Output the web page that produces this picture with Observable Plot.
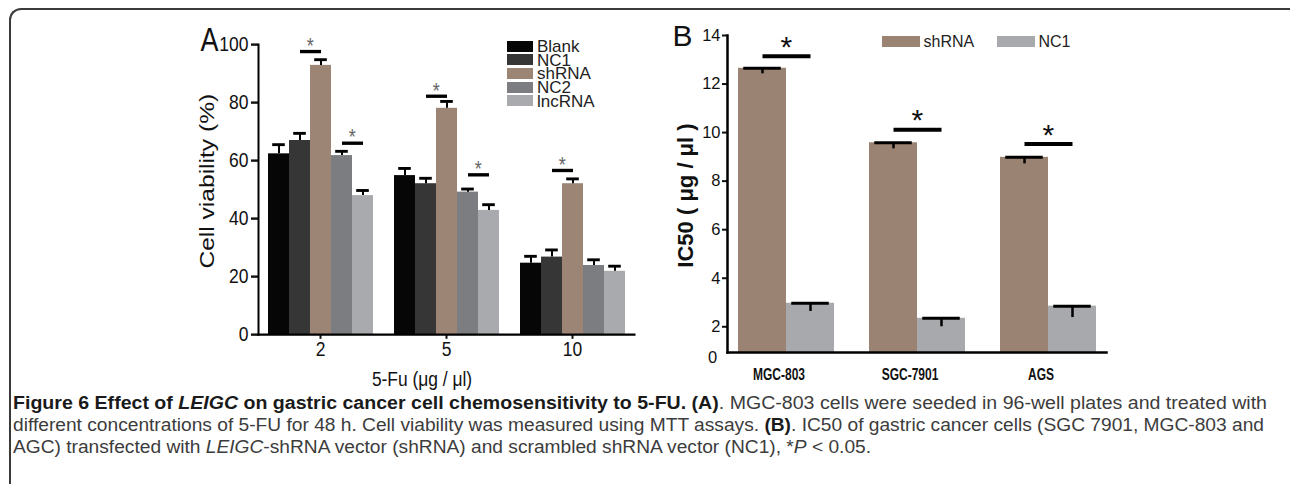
<!DOCTYPE html>
<html><head><meta charset="utf-8">
<script src="https://cdn.jsdelivr.net/npm/d3@7"></script>
<script src="https://cdn.jsdelivr.net/npm/@observablehq/plot@0.6"></script>
<style>
body{margin:0;background:#fff;}
#fig{position:relative;width:1290px;height:484px;overflow:hidden;font-family:"Liberation Sans",Arial,sans-serif;background:#fff;}
#frame{position:absolute;left:9px;top:8px;width:1300px;height:500px;border-top:2px solid #3a3a3a;border-left:2px solid #3a3a3a;border-top-left-radius:12px;box-sizing:border-box;}
.panel{position:absolute;}
.sw{position:absolute;}
.lt{position:absolute;white-space:nowrap;color:#222;overflow:visible;}
.cap{position:absolute;left:13px;height:20px;line-height:20px;white-space:nowrap;font-size:17.5px;color:#3c3c3c;}
.cap span.in{display:inline-block;transform-origin:0 50%;}
.cap b{color:#1a1a1a;}
</style></head><body>
<div id="fig">
  <div id="frame"></div>
  <div id="panelA" class="panel" style="left:180px;top:20px"></div>
  <div id="panelB" class="panel" style="left:650px;top:15px"></div>
  <div class="cap" style="top:393px"><span class="in" id="c1"><b>Figure 6 Effect of <i>LEIGC</i> on gastric cancer cell chemosensitivity to 5-FU. (A)</b>. MGC-803 cells were seeded in 96-well plates and treated with</span></div>
  <div class="cap" style="top:415px"><span class="in" id="c2">different concentrations of 5-FU for 48 h. Cell viability was measured using MTT assays. <b>(B)</b>. IC50 of gastric cancer cells (SGC 7901, MGC-803 and</span></div>
  <div class="cap" style="top:437px"><span class="in" id="c3">AGC) transfected with <i>LEIGC</i>-shRNA vector (shRNA) and scrambled shRNA vector (NC1), *<i>P</i> &lt; 0.05.</span></div>
</div>
<script>
// ---------- Panel A data ----------
const doses = ["2", "5", "10"];
const seriesA = ["Blank", "NC1", "shRNA", "NC2", "lncRNA"];
const colorsA = ["#060606", "#363636", "#9c8575", "#7c7d81", "#a9aaad"];
const blank = [62.3, 54.8, 24.6];
const nc1 = [66.9, 52.0, 26.7];
const shrna = [92.8, 78.0, 52.0];
const nc2 = [61.7, 49.1, 23.8];
const lncrna = [47.9, 42.8, 21.8];
const blankErr = [3.2, 2.5, 2.4];
const nc1Err = [2.5, 1.9, 2.5];
const shrnaErr = [2.0, 2.4, 1.7];
const nc2Err = [1.5, 1.1, 2.0];
const lncrnaErr = [1.8, 2.0, 1.8];
const yTicksA = [0, 20, 40, 60, 80, 100];
const sigDoseA = ["2", "2", "5", "5", "10"];
const sigFromA = ["NC1", "NC2", "NC1", "NC2", "NC1"];
const sigToA = ["shRNA", "lncRNA", "shRNA", "lncRNA", "shRNA"];
const sigYA = [97.6, 66.0, 82.2, 55.1, 56.6];

// ---------- Panel B data ----------
const cells = ["MGC-803", "SGC-7901", "AGS"];
const groupsB = ["shRNA", "NC1"];
const colorsB = ["#9b8373", "#a8a9ac"];
const ic50Sh = [12.65, 9.58, 8.98];
const ic50ShErr = [0.23, 0.25, 0.27];
const ic50Nc = [2.97, 2.35, 2.85];
const ic50NcErr = [0.34, 0.35, 0.47];
const yTicksB = [2, 4, 6, 8, 10, 12, 14];
const sigYB = [13.15, 10.12, 9.53];

const font = '"Liberation Sans", Arial, sans-serif';

// ---------- build tables ----------
const valsA = [blank, nc1, shrna, nc2, lncrna];
const errsA = [blankErr, nc1Err, shrnaErr, nc2Err, lncrnaErr];
const rowsA = doses.flatMap((d, i) => seriesA.map((s, j) => ({dose: d, series: s, value: valsA[j][i], err: errsA[j][i]})));
const sigA = sigDoseA.map((d, i) => ({dose: d, from: sigFromA[i], to: sigToA[i], y: sigYA[i]}));

const valsB = [ic50Sh, ic50Nc];
const errsB = [ic50ShErr, ic50NcErr];
const rowsB = cells.flatMap((c, i) => groupsB.map((g, j) => ({cell: c, group: g, value: valsB[j][i], err: errsB[j][i]})));
const sigB = cells.map((c, i) => ({cell: c, from: "shRNA", to: "NC1", y: sigYB[i]}));

// ---------- Panel A ----------
const stretchA = 1.2;
const HA = 312, WA = 470;
const plotA = Plot.plot({
  width: WA, height: HA,
  marginLeft: 77, marginRight: 14, marginTop: 20, marginBottom: 50.3,
  style: {fontFamily: font, fontSize: "17.5px", color: "#111", background: "transparent", overflow: "visible"},
  fx: {domain: doses, label: null, axis: "bottom", paddingInner: 0.0157, paddingOuter: 0, tickSize: 4, tickPadding: 1},
  x: {domain: seriesA, axis: null, paddingInner: 0, paddingOuter: 0.42},
  y: {domain: [0, 100], ticks: yTicksA, tickSize: 7, tickPadding: 3, label: null},
  color: {domain: seriesA, range: colorsA},
  marks: [
    Plot.barY(rowsA, {fx: "dose", x: "series", y: "value", fill: "series"}),
    Plot.ruleX(rowsA, {fx: "dose", x: "series", y1: "value", y2: d => d.value + d.err, stroke: "black", strokeWidth: 2}),
    Plot.tickY(rowsA, {fx: "dose", x: "series", y: d => d.value + d.err, stroke: "black", strokeWidth: 2.4, insetLeft: 4.2, insetRight: 4.2}),
    Plot.link(sigA, {fx: "dose", x1: "from", x2: "to", y1: "y", y2: "y", stroke: "black", strokeWidth: 2.8}),
    Plot.text(sigA, {fx: "dose", x: "to", y: "y", text: () => "*", dx: -10.7, dy: -4.7, fontSize: 18, fill: "#666"}),
    Plot.frame({anchor: "bottom", facet: "super", stroke: "black", strokeWidth: 2}),
    Plot.frame({anchor: "left", facet: "super", stroke: "black", strokeWidth: 2}),
    Plot.text(["Cell viability (%)"], {facet: "super", frameAnchor: "left", rotate: -90, dx: -51, dy: -7, fontSize: 20.5, textAnchor: "middle", lineAnchor: "middle", fill: "#111"}),
    Plot.text(["5-Fu (μg / μl)"], {facet: "super", frameAnchor: "bottom", dx: -24.5, dy: 37.3, fontSize: 17.4, textAnchor: "middle", lineAnchor: "middle", fill: "#111"}),
    Plot.text(["A"], {facet: "super", frameAnchor: "top-left", dx: -58, dy: -3.3, fontSize: 27, textAnchor: "start", lineAnchor: "middle", fill: "#111"})
  ]
});
plotA.setAttribute("height", HA * stretchA);
plotA.setAttribute("preserveAspectRatio", "none");
plotA.style.width = WA + "px";
plotA.style.height = (HA * stretchA) + "px";
plotA.style.maxWidth = "none";
d3.select(plotA).selectAll('g[aria-label="y-axis tick"], g[aria-label="fx-axis tick"]').attr("stroke-width", 2);
document.getElementById("panelA").appendChild(plotA);

// ---------- Panel B ----------
const plotB = Plot.plot({
  width: 500, height: 370,
  marginLeft: 77, marginRight: 44, marginTop: 20, marginBottom: 33,
  style: {fontFamily: font, fontSize: "16.5px", color: "#111", background: "transparent", overflow: "visible"},
  fx: {domain: cells, label: null, axis: "bottom", paddingInner: 0.107, paddingOuter: 0, tickSize: 0, tickPadding: 16},
  x: {domain: groupsB, axis: null, paddingInner: 0, paddingOuter: 0.206},
  y: {domain: [0.94, 14], clamp: true, ticks: yTicksB, tickSize: 5, tickPadding: 2, label: null},
  color: {domain: groupsB, range: colorsB},
  marks: [
    Plot.barY(rowsB, {fx: "cell", x: "group", y: "value", fill: "group"}),
    Plot.ruleX(rowsB, {fx: "cell", x: "group", y1: d => d.value - d.err, y2: "value", stroke: "black", strokeWidth: 2.5}),
    Plot.tickY(rowsB, {fx: "cell", x: "group", y: "value", stroke: "black", strokeWidth: 3, insetLeft: 5.25, insetRight: 5.25}),
    Plot.link(sigB, {fx: "cell", x1: "from", x2: "to", y1: "y", y2: "y", stroke: "black", strokeWidth: 4}),
    Plot.text(sigB, {fx: "cell", x: "to", y: "y", text: () => "*", dx: -24.25, dy: -9, fontSize: 30, fill: "#111"}),
    Plot.frame({anchor: "bottom", facet: "super", stroke: "black", strokeWidth: 2.5}),
    Plot.frame({anchor: "left", facet: "super", stroke: "black", strokeWidth: 2.5}),
    Plot.text(["0"], {facet: "super", frameAnchor: "bottom-left", dx: -10.3, dy: 5, textAnchor: "end", lineAnchor: "middle", fontSize: 16.5, fill: "#111"}),
    Plot.text(["IC50 ( μg / μl )"], {facet: "super", frameAnchor: "left", rotate: -90, dx: -42, dy: 1.5, fontSize: 22, fontWeight: "bold", textAnchor: "middle", lineAnchor: "middle", fill: "#111"}),
    Plot.text(["B"], {facet: "super", frameAnchor: "top-left", dx: -55, dy: 1, fontSize: 30, textAnchor: "start", lineAnchor: "middle", fill: "#111"})
  ]
});
plotB.style.maxWidth = "none";
d3.select(plotB).selectAll('g[aria-label="y-axis tick"]').attr("stroke-width", 2);
d3.select(plotB).selectAll('g[aria-label="fx-axis tick label"] text').each(function() {
  const t = this.getAttribute("transform") || "";
  this.setAttribute("transform", t + " translate(-7,0) scale(0.75,1)");
  this.setAttribute("font-weight", "bold");
  this.setAttribute("font-size", "16px");
});
document.getElementById("panelB").appendChild(plotB);

// ---------- Legends (HTML) ----------
const fig = document.getElementById("fig");
function addSwatch(left, top, w, h, color) {
  const s = document.createElement("div");
  s.className = "sw";
  Object.assign(s.style, {left: left + "px", top: top + "px", width: w + "px", height: h + "px", background: color});
  fig.appendChild(s);
}
function addLabel(left, centerY, text, size, lh) {
  const l = document.createElement("div");
  l.className = "lt";
  Object.assign(l.style, {left: left + "px", top: (centerY - lh / 2) + "px", fontSize: size + "px", lineHeight: lh + "px", height: lh + "px"});
  l.textContent = text;
  fig.appendChild(l);
}
seriesA.forEach((s, i) => {
  const cy = 46 + i * 13.67;
  addSwatch(507, cy - 5.5, 26, 11, colorsA[i]);
  addLabel(537, cy + 0.5, s, 17, 13);
});
groupsB.forEach((g, i) => {
  const x0 = [882, 997][i];
  addSwatch(x0, 36, 38, 11.3, colorsB[i]);
  addLabel(x0 + 41.5, 42, g, 16, 18);
});

// ---------- Caption fitting ----------
function fit(id, target) {
  const el = document.getElementById(id);
  const w = el.getBoundingClientRect().width;
  const k = target / w;
  el.style.transform = `scaleX(${k})`;
  return k;
}
fit("c1", 1254);
const k2 = fit("c2", 1251);
document.getElementById("c3").style.transform = `scaleX(${k2})`;
</script>
</body></html>
